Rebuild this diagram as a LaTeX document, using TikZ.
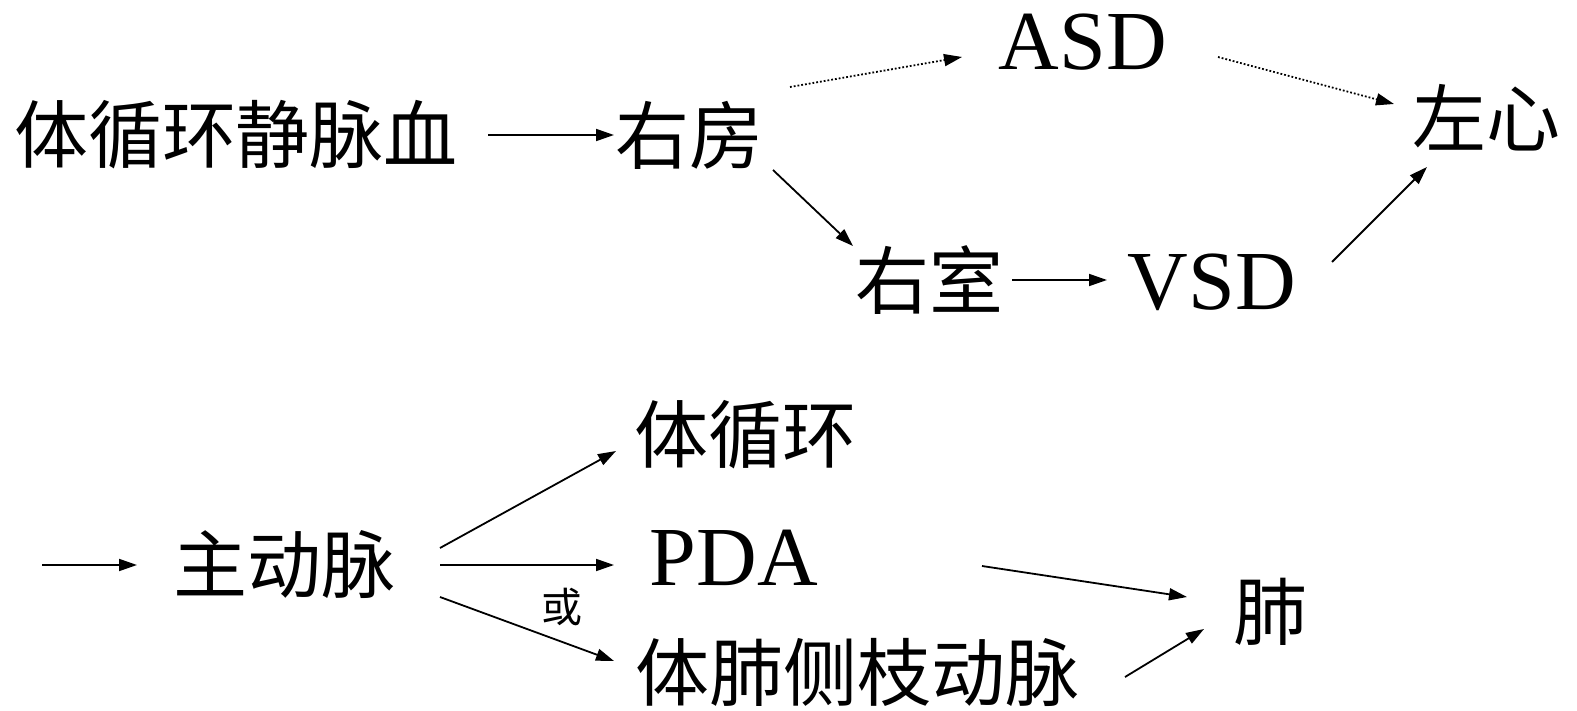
\documentclass[tikz,border=0pt]{standalone}
\usepackage{fontspec}
\setmainfont{Liberation Serif}
\newfontfamily\cjk{Noto Sans CJK SC}
\usetikzlibrary{arrows.meta}
\begin{document}
\begin{tikzpicture}[x=1pt,y=-1pt,
  cn/.style={inner sep=0pt,font=\cjk\fontsize{74}{74}\selectfont},
  ln/.style={inner sep=0pt,font=\fontsize{84}{84}\selectfont},
  sm/.style={inner sep=0pt,font=\cjk\fontsize{41}{41}\selectfont},
  arr/.style={line width=1.8pt,-{Triangle[length=18pt,width=12pt]}},
  darr/.style={arr,dotted}]
\useasboundingbox (0,0) rectangle (1577,711);
% top
\node[cn] (tx) at (236,135) {体循环静脉血};
\node[cn] (yf) at (689,135) {右房};
\node[ln] (asd) at (1083,42) {ASD};
\node[cn] (zx) at (1486,118) {左心};
\node[cn] (ys) at (929,280) {右室};
\node[ln] (vsd) at (1212,282) {VSD};
\coordinate (a1s) at (488,135); \coordinate (a1e) at (614,135);
\draw[arr] (a1s) -- (a1e);
\coordinate (d1s) at (790,87); \coordinate (d1e) at (962,57);
\draw[darr] (d1s) -- (d1e);
\coordinate (d2s) at (1218,57); \coordinate (d2e) at (1394,104);
\draw[darr] (d2s) -- (d2e);
\coordinate (b1s) at (773,170); \coordinate (b1e) at (853,246);
\draw[arr] (b1s) -- (b1e);
\coordinate (b2s) at (1012,280); \coordinate (b2e) at (1107,280);
\draw[arr] (b2s) -- (b2e);
\coordinate (b3s) at (1332,262); \coordinate (b3e) at (1427,167);
\draw[arr] (b3s) -- (b3e);
% bottom
\node[cn] (zd) at (284,565) {主动脉};
\node[cn] (txh) at (745,435) {体循环};
\node[ln] (pda) at (734,558) {PDA};
\node[cn] (tf) at (857,672) {体肺侧枝动脉};
\node[cn] (fei) at (1270,612) {肺};
\node[sm] (huo) at (562,607) {或};
\coordinate (c0s) at (42,565); \coordinate (c0e) at (137,565);
\draw[arr] (c0s) -- (c0e);
\coordinate (c1s) at (440,548); \coordinate (c1e) at (616,451);
\draw[arr] (c1s) -- (c1e);
\coordinate (c2s) at (440,565); \coordinate (c2e) at (614,565);
\draw[arr] (c2s) -- (c2e);
\coordinate (c3s) at (440,597); \coordinate (c3e) at (614,661);
\draw[arr] (c3s) -- (c3e);
\coordinate (c4s) at (982,566); \coordinate (c4e) at (1187,597);
\draw[arr] (c4s) -- (c4e);
\coordinate (c5s) at (1125,677); \coordinate (c5e) at (1204,629);
\draw[arr] (c5s) -- (c5e);
\end{tikzpicture}
\end{document}
